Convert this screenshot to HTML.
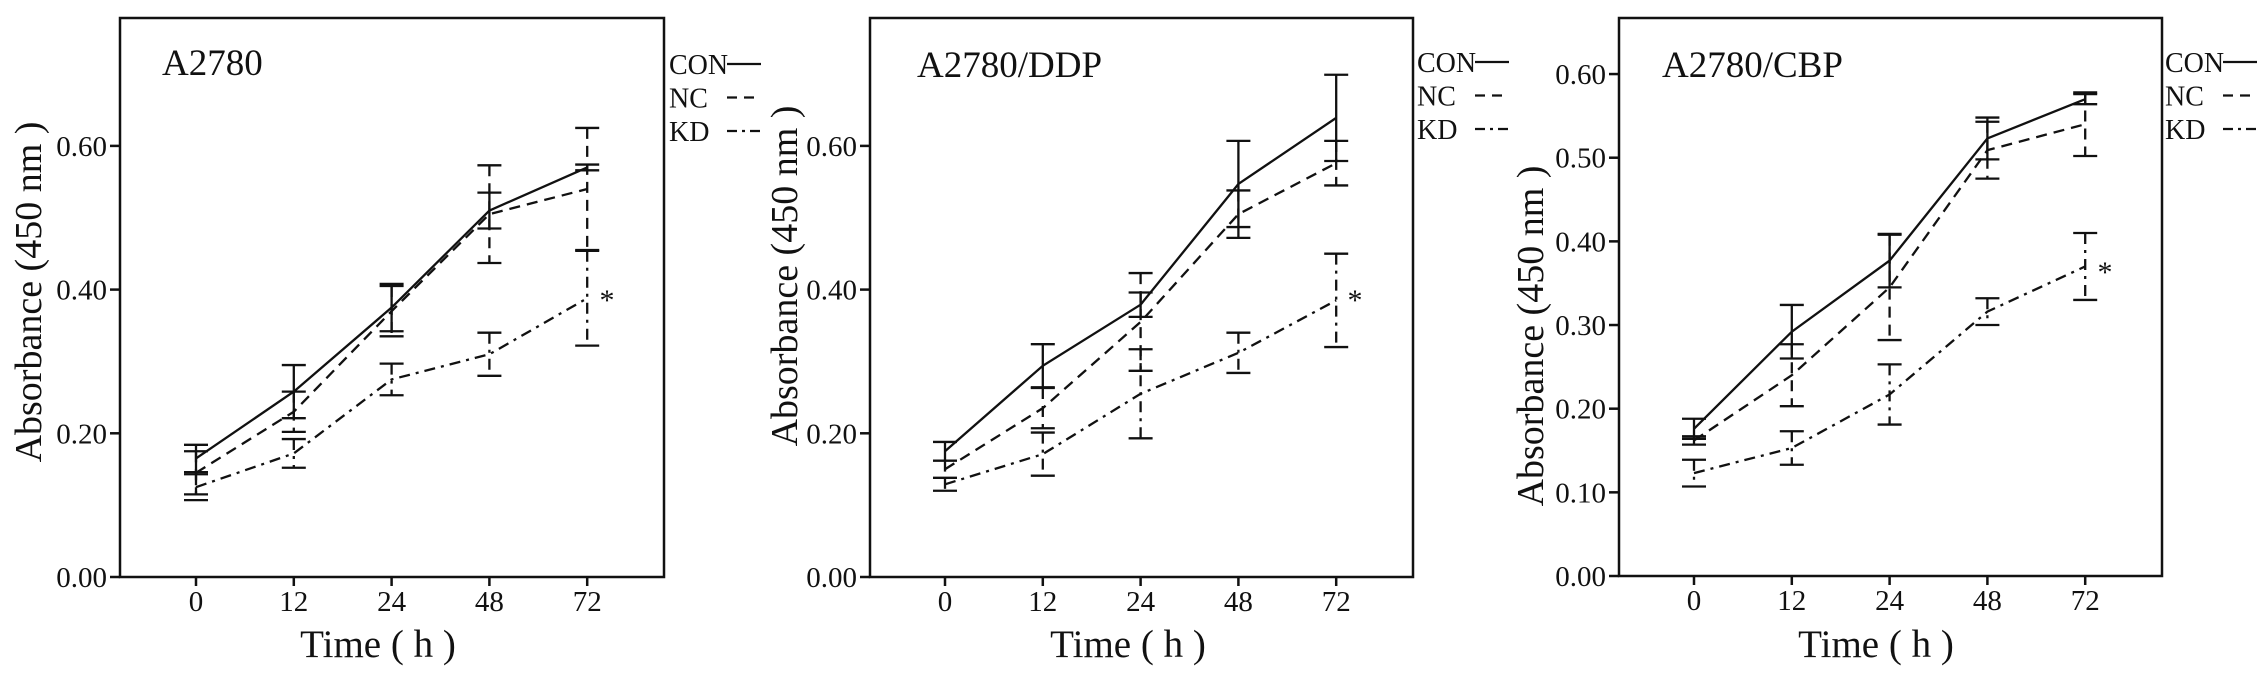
<!DOCTYPE html>
<html><head><meta charset="utf-8"><style>
html,body{margin:0;padding:0;background:#fff;}
svg{display:block;font-family:"Liberation Serif","Times New Roman",serif;}
</style></head><body>
<svg id="fig" width="2268" height="683" viewBox="0 0 2268 683" xmlns="http://www.w3.org/2000/svg"></svg>
<script>
const categories = ["0","12","24","48","72"];
const seriesNames = ["CON","NC","KD"];
const titles = ["A2780","A2780/DDP","A2780/CBP"];
// panel 1: A2780
const p1Con = [0.165,0.258,0.375,0.510,0.570];
const p1ConErr = [0.019,0.037,0.033,0.025,0.004];
const p1Nc = [0.145,0.230,0.370,0.505,0.540];
const p1NcErr = [0.030,0.028,0.035,0.068,0.085];
const p1Kd = [0.125,0.172,0.275,0.310,0.388];
const p1KdErr = [0.018,0.020,0.022,0.030,0.066];
// panel 2: A2780/DDP
const p2Con = [0.175,0.294,0.379,0.547,0.639];
const p2ConErr = [0.013,0.030,0.017,0.060,0.060];
const p2Nc = [0.150,0.235,0.355,0.505,0.576];
const p2NcErr = [0.012,0.028,0.068,0.033,0.031];
const p2Kd = [0.129,0.171,0.255,0.312,0.385];
const p2KdErr = [0.009,0.030,0.062,0.028,0.065];
// panel 3: A2780/CBP
const p3Con = [0.176,0.292,0.377,0.523,0.570];
const p3ConErr = [0.012,0.032,0.032,0.025,0.006];
const p3Nc = [0.162,0.240,0.345,0.509,0.540];
const p3NcErr = [0.005,0.037,0.063,0.034,0.038];
const p3Kd = [0.123,0.153,0.217,0.316,0.370];
const p3KdErr = [0.016,0.020,0.036,0.016,0.040];
const yTicks12 = [0,0.2,0.4,0.6];
const yTicks3 = [0,0.1,0.2,0.3,0.4,0.5,0.6];

const NS="http://www.w3.org/2000/svg";
const svg=document.getElementById('fig');
function mk(tag,attrs,parent){const e=document.createElementNS(NS,tag);for(const k in attrs)e.setAttribute(k,attrs[k]);(parent||svg).appendChild(e);return e;}
const dashes=["none","11 7","11 6 3 6"];

const panels=[
 {left:120,right:664,top:18,bottom:577,yMax:0.778,ticks:yTicks12,x0:196,ytx:28,yty:292,xtc:378,lgx:669,lgy:74,tx:162,ty:75,star:[607,296],data:[[p1Con,p1ConErr],[p1Nc,p1NcErr],[p1Kd,p1KdErr]]},
 {left:870,right:1413,top:18,bottom:577,yMax:0.778,ticks:yTicks12,x0:945,ytx:784,yty:276,xtc:1128,lgx:1417,lgy:72,tx:917,ty:77,star:[1355,296],data:[[p2Con,p2ConErr],[p2Nc,p2NcErr],[p2Kd,p2KdErr]]},
 {left:1619,right:2162,top:18,bottom:576,yMax:0.667,ticks:yTicks3,x0:1694,ytx:1530,yty:336,xtc:1876,lgx:2165,lgy:72,tx:1662,ty:77,star:[2105,268],data:[[p3Con,p3ConErr],[p3Nc,p3NcErr],[p3Kd,p3KdErr]]}
];

panels.forEach((p,pi)=>{
  const g=mk('g',{});
  
  
  const yS=v=>p.bottom-(v/p.yMax)*(p.bottom-p.top);
  const xS=i=>p.x0+i*97.8;
  const box=mk('rect',{x:p.left,y:p.top,width:p.right-p.left,height:p.bottom-p.top,fill:'none',stroke:'#111','stroke-width':2.5},g);
  
  
  p.ticks.forEach(t=>{
    const y=yS(t);
    mk('line',{x1:p.left-10,x2:p.left,y1:y,y2:y,stroke:'#111','stroke-width':2.5},g);
    const tl=mk('text',{x:p.left-13,y:y+10,'text-anchor':'end','font-size':29,fill:'#111'},g);
    tl.textContent=t.toFixed(2);
    
    
  });
  categories.forEach((c,i)=>{
    const x=xS(i);
    mk('line',{x1:x,x2:x,y1:p.bottom,y2:p.bottom+9,stroke:'#111','stroke-width':2.5},g);
    const tl=mk('text',{x:x,y:p.bottom+34,'text-anchor':'middle','font-size':29,fill:'#111'},g);
    tl.textContent=c;
    
    
  });
  const yt=mk('text',{x:0,y:0,transform:`translate(${p.ytx+13},${p.yty}) rotate(-90)`,'text-anchor':'middle','font-size':38,fill:'#111'},g);
  yt.textContent='Absorbance (450 nm )';
  
  
  const xt=mk('text',{x:p.xtc,y:657,'text-anchor':'middle','font-size':39,fill:'#111'},g);
  xt.textContent='Time ( h )';
  
  
  const tt=mk('text',{x:p.tx,y:p.ty,'font-size':37,fill:'#111'},g);
  tt.textContent=titles[pi];
  
  
  p.data.forEach((d,si)=>{
    const vals=d[0],errs=d[1];
    const pts=vals.map((v,i)=>xS(i)+','+yS(v)).join(' ');
    const pl=mk('polyline',{points:pts,fill:'none',stroke:'#111','stroke-width':2.3,'stroke-dasharray':dashes[si]},g);
    
    
    vals.forEach((v,i)=>{
      const x=xS(i),y1=yS(v+errs[i]),y2=yS(v-errs[i]);
      const eg=mk('g',{},g);
      
      
      mk('line',{x1:x,x2:x,y1:y1,y2:y2,stroke:'#111','stroke-width':2.3,'stroke-dasharray':dashes[si]},eg);
      mk('line',{x1:x-12,x2:x+12,y1:y1,y2:y1,stroke:'#111','stroke-width':2.3},eg);
      mk('line',{x1:x-12,x2:x+12,y1:y2,y2:y2,stroke:'#111','stroke-width':2.3},eg);
    });
  });
  const st=mk('text',{x:p.star[0],y:p.star[1]+14,'text-anchor':'middle','font-size':30,fill:'#111'},g);
  st.textContent='*';
  
  
  seriesNames.forEach((n,si)=>{
    const y=p.lgy+si*33.5;
    const le=mk('g',{},g);
    
    
    const t=mk('text',{x:p.lgx,y:y,'font-size':28,fill:'#111'},le);
    t.textContent=n;
    mk('line',{x1:p.lgx+58,x2:p.lgx+92,y1:y-10,y2:y-10,stroke:'#111','stroke-width':2.3,'stroke-dasharray':si===0?'none':(si===1?'10 7':'10 5 3 5')},le);
  });
});
</script>
</body></html>
